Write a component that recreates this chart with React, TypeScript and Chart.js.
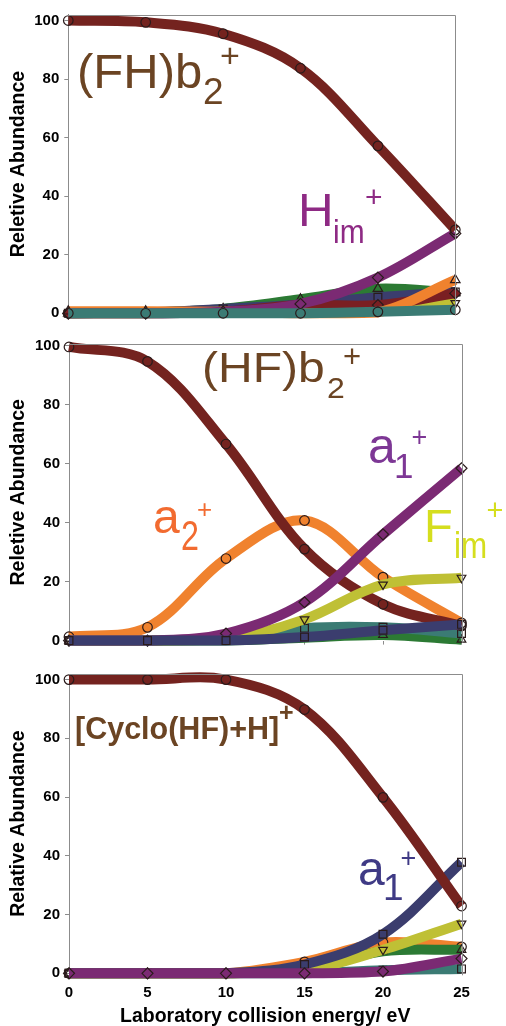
import { useEffect, useRef } from "react";
import { Chart, registerables } from "chart.js";

Chart.register(...registerables);

const FONT = '"Liberation Sans", Arial, Helvetica, sans-serif';

// ---------- data ----------
const energies = [0, 5, 10, 15, 20, 25];
const xTickValues = [0, 5, 10, 15, 20, 25];
const yTickValues = [0, 20, 40, 60, 80, 100];
const xTitle = "Laboratory collision energy/ eV";

// Panel 1: (FH)b2+
const p1Brown = [100, 99.4, 95.5, 83.7, 57.2, 28.5];
const p1Purple = [0, 0, 0.5, 3.2, 12.2, 27.3];
const p1Teal = [0, 0, 0, 0, 0.5, 1.2];
const p1Orange = [0.7, 0.7, 0.5, 0, 0.3, 11.4];
const p1DarkRed = [0, 0, 0.5, 2.8, 2.8, 6.8];
const p1Yellow = [0, 0, 0.5, 1.5, 2.5, 3.5];
const p1Navy = [0, 0.3, 1.5, 3, 5.5, 7.3];
const p1Green = [0, 0.3, 1.5, 4.8, 8.4, 7];

// Panel 2: (HF)b2+
const p2Navy = [0, 0, 0, 1.2, 3.5, 5.5];
const p2Purple = [0, 0, 2.4, 13, 36, 58.4];
const p2Yellow = [0, 0, 0.5, 7.2, 19, 21.3];
const p2Brown = [99.5, 94.6, 66.6, 31, 12.3, 5];
const p2Orange = [1.3, 4.5, 27.8, 40.7, 21.5, 6];
const p2Teal = [0, 0, 0.5, 4.2, 4.5, 2.4];
const p2Green = [0, 0, 0, 1, 1.9, 0.3];

// Panel 3: [Cyclo(HF)+H]+
const p3Brown = [100, 100, 100, 89.8, 59.9, 22.9];
const p3Navy = [0, 0, 0, 3, 13.3, 37.8];
const p3Purple = [0, 0, 0, 0, 0.6, 5];
const p3Yellow = [0, 0, 0, 1, 8, 16.9];
const p3Green = [0, 0, 0, 1.5, 7.5, 8];
const p3Orange = [0, 0, 0, 3.9, 10.5, 9];
const p3Teal = [0, 0, 0, 0, 1, 1.5];

// ---------- styles ----------
const C = {
  brown: "#74231f",
  purple: "#7b2a73",
  orange: "#f0822e",
  yellow: "#bfc035",
  green: "#2c7a34",
  teal: "#3b7b74",
  navy: "#3b3d6e",
  darkred: "#7a1f22",
};

type Series = {
  data: number[];
  color: string;
  shape: string;
  rot?: number;
  radius?: number;
  fill?: boolean;
};

function makeDataset(s: Series) {
  return {
    data: energies.map((x, i) => ({ x, y: s.data[i] })),
    borderColor: s.color,
    backgroundColor: s.color,
    borderWidth: 10,
    tension: 0.35,
    borderJoinStyle: "round",
    pointStyle: s.shape,
    pointRotation: s.rot ?? 0,
    pointRadius: s.radius ?? 5,
    pointHoverRadius: s.radius ?? 5,
    pointBorderWidth: 1.2,
    pointBorderColor: "#2a1b1b",
    pointBackgroundColor: s.fill ? s.color : "rgba(0,0,0,0)",
    clip: false,
  };
}

type Piece = {
  text: string;
  x: number;
  y: number;
  size: number;
  color: string;
  bold?: boolean;
  sx?: number;
  sy?: number;
};

const TXT_BROWN = "#6b4423";

const p1Notes: Piece[] = [
  { text: "(FH)b", x: 77, y: 88, size: 49, color: TXT_BROWN },
  { text: "2", x: 203, y: 104, size: 37, color: TXT_BROWN },
  { text: "+", x: 220, y: 67, size: 34, color: TXT_BROWN },
  { text: "H", x: 298, y: 226, size: 47, color: "#8e2a84", sx: 1.05 },
  { text: "im", x: 333, y: 243, size: 34, color: "#8e2a84", sx: 0.88 },
  { text: "+", x: 365, y: 206.5, size: 30, color: "#8e2a84" },
];

const p2Notes: Piece[] = [
  { text: "(HF)b", x: 202, y: 382, size: 48, color: TXT_BROWN, sy: 0.87 },
  { text: "2", x: 327, y: 398, size: 32, color: TXT_BROWN, sy: 0.92 },
  { text: "+", x: 343, y: 366.5, size: 31, color: TXT_BROWN },
  { text: "a", x: 153, y: 533, size: 48, color: "#f26b30" },
  { text: "2", x: 181, y: 550, size: 38, color: "#f26b30", sx: 0.85, sy: 1.1 },
  { text: "+", x: 197, y: 518, size: 26, color: "#f26b30" },
  { text: "a", x: 368, y: 463, size: 50, color: "#7d3795" },
  { text: "1", x: 394, y: 478, size: 35, color: "#7d3795" },
  { text: "+", x: 411.5, y: 446, size: 27, color: "#7d3795" },
  { text: "F", x: 424, y: 542, size: 47, color: "#d5de1e" },
  { text: "im", x: 454, y: 558, size: 37, color: "#d5de1e", sx: 0.85 },
  { text: "+", x: 486.5, y: 520, size: 29, color: "#d5de1e" },
];

const p3Notes: Piece[] = [
  { text: "[Cyclo(HF)+H]", x: 75, y: 739, size: 30.5, color: TXT_BROWN, bold: true },
  { text: "+", x: 279, y: 721, size: 25, color: TXT_BROWN, bold: true },
  { text: "a", x: 358, y: 885, size: 48, color: "#3f3a85" },
  { text: "1", x: 383, y: 900, size: 37, color: "#3f3a85" },
  { text: "+", x: 400.5, y: 867, size: 27, color: "#3f3a85" },
];

type PanelCfg = {
  top: number;
  height: number;
  padTop: number;
  padBottom: number;
  padRight: number;
  yWidth: number;
  yMax: number;
  yTitle: string;
  showX: boolean;
  xTickMarks: boolean;
  xHeight: number;
  series: Series[];
  notes: Piece[];
};

const panels: PanelCfg[] = [
  {
    top: 0,
    height: 330,
    padTop: 14.7,
    padBottom: 16.7,
    padRight: 50.7,
    yWidth: 68.3,
    yMax: 102,
    yTitle: "Reletive Abundance",
    showX: false,
    xTickMarks: false,
    xHeight: 0,
    series: [
      { data: p1Brown, color: C.brown, shape: "circle", radius: 4.8 },
      { data: p1Teal, color: C.teal, shape: "circle", radius: 4.8 },
      { data: p1Purple, color: C.purple, shape: "rectRot", radius: 5.5 },
      { data: p1Orange, color: C.orange, shape: "triangle", radius: 5.5 },
      { data: p1DarkRed, color: C.darkred, shape: "rectRot", radius: 5.5, fill: true },
      { data: p1Yellow, color: C.yellow, shape: "triangle", rot: 180, radius: 5 },
      { data: p1Navy, color: C.navy, shape: "rect", radius: 5.5 },
      { data: p1Green, color: C.green, shape: "triangle", radius: 5.5 },
    ],
    notes: p1Notes,
  },
  {
    top: 330,
    height: 330,
    padTop: 11.3,
    padBottom: 19.4,
    padRight: 44.5,
    yWidth: 69,
    yMax: 100.5,
    yTitle: "Reletive Abundance",
    showX: false,
    xTickMarks: true,
    xHeight: 0,
    series: [
      { data: p2Navy, color: C.navy, shape: "rect", radius: 5.5 },
      { data: p2Purple, color: C.purple, shape: "rectRot", radius: 5.5 },
      { data: p2Yellow, color: C.yellow, shape: "triangle", rot: 180, radius: 5 },
      { data: p2Brown, color: C.brown, shape: "circle", radius: 4.8 },
      { data: p2Orange, color: C.orange, shape: "circle", radius: 4.8 },
      { data: p2Teal, color: C.teal, shape: "rect", radius: 5.5 },
      { data: p2Green, color: C.green, shape: "triangle", radius: 5 },
    ],
    notes: p2Notes,
  },
  {
    top: 660,
    height: 366,
    padTop: 12.7,
    padBottom: 0,
    padRight: 44.5,
    yWidth: 69,
    yMax: 101.9,
    yTitle: "Relative Abundance",
    showX: true,
    xTickMarks: false,
    xHeight: 52.7,
    series: [
      { data: p3Brown, color: C.brown, shape: "circle", radius: 4.8 },
      { data: p3Purple, color: C.purple, shape: "rectRot", radius: 5.5 },
      { data: p3Navy, color: C.navy, shape: "rect", radius: 5.5 },
      { data: p3Yellow, color: C.yellow, shape: "triangle", rot: 180, radius: 5 },
      { data: p3Green, color: C.green, shape: "triangle", radius: 5 },
      { data: p3Orange, color: C.orange, shape: "circle", radius: 4.8 },
      { data: p3Teal, color: C.teal, shape: "rect", radius: 5.5 },
    ],
    notes: p3Notes,
  },
];

const framePlugin = {
  id: "frame",
  afterDatasetsDraw(chart: any) {
    const { ctx, chartArea: a } = chart;
    ctx.save();
    ctx.strokeStyle = "#8c8c8c";
    ctx.lineWidth = 1;
    ctx.beginPath();
    const r = Math.round(a.right) + 0.5;
    const t = Math.round(a.top) + 0.5;
    ctx.moveTo(Math.round(a.left), t);
    ctx.lineTo(r, t);
    ctx.lineTo(r, a.bottom + 2);
    ctx.stroke();
    ctx.restore();
  },
};

function notesPlugin(notes: Piece[], offsetTop: number) {
  return {
    id: "notes",
    afterDraw(chart: any) {
      const ctx = chart.ctx;
      notes.forEach((p) => {
        ctx.save();
        ctx.font = `${p.bold ? "bold " : ""}${p.size}px ${FONT}`;
        ctx.fillStyle = p.color;
        ctx.textBaseline = "alphabetic";
        ctx.textAlign = "left";
        ctx.translate(p.x, p.y - offsetTop);
        ctx.scale(p.sx ?? 1, p.sy ?? 1);
        ctx.fillText(p.text, 0, 0);
        ctx.restore();
      });
    },
  };
}

function buildConfig(p: PanelCfg): any {
  return {
    type: "line",
    data: { datasets: p.series.map(makeDataset) },
    options: {
      responsive: false,
      animation: false,
      devicePixelRatio: 1,
      events: [],
      layout: {
        padding: { left: 0, right: p.padRight, top: p.padTop, bottom: p.padBottom },
      },
      plugins: {
        legend: { display: false },
        tooltip: { enabled: false },
      },
      scales: {
        x: {
          type: "linear",
          min: 0,
          max: 25,
          afterBuildTicks: (ax: any) => {
            ax.ticks = xTickValues.map((v) => ({ value: v }));
          },
          afterFit: (ax: any) => {
            ax.height = p.xHeight;
          },
          ticks: {
            display: p.showX,
            color: "#000",
            padding: 6.4,
            maxRotation: 0,
            autoSkip: false,
            font: { family: FONT, size: 15, weight: "bold" },
          },
          grid: {
            display: p.xTickMarks || p.showX,
            drawOnChartArea: false,
            drawTicks: true,
            tickLength: 4,
            color: p.xTickMarks ? "#8c8c8c" : "rgba(0,0,0,0)",
          },
          border: { display: false },
          title: {
            display: p.showX,
            text: xTitle,
            color: "#000",
            padding: { top: 0, bottom: 0 },
            font: { family: FONT, size: 19.5, weight: "bold", lineHeight: 0.92 },
          },
        },
        y: {
          type: "linear",
          min: 0,
          max: p.yMax,
          afterBuildTicks: (ax: any) => {
            ax.ticks = yTickValues.map((v) => ({ value: v }));
          },
          afterFit: (ax: any) => {
            ax.width = p.yWidth;
          },
          ticks: {
            color: "#000",
            padding: 5,
            font: { family: FONT, size: 15, weight: "bold" },
          },
          grid: {
            drawOnChartArea: false,
            drawTicks: true,
            tickLength: 4,
            color: "#8c8c8c",
          },
          border: { display: true, color: "#8c8c8c", width: 1 },
          title: {
            display: true,
            text: p.yTitle,
            color: "#000",
            padding: { top: 7.3, bottom: 0 },
            font: { family: FONT, size: 19.5, weight: "bold", lineHeight: 1.2 },
          },
        },
      },
    },
    plugins: [framePlugin, notesPlugin(p.notes, p.top)],
  };
}

function Panel({ cfg }: { cfg: PanelCfg }) {
  const ref = useRef<HTMLCanvasElement | null>(null);
  useEffect(() => {
    if (!ref.current) return;
    const chart = new Chart(ref.current, buildConfig(cfg));
    return () => chart.destroy();
  }, [cfg]);
  return (
    <canvas
      ref={ref}
      width={506}
      height={cfg.height}
      style={{
        position: "absolute",
        left: 0,
        top: cfg.top,
        width: 506,
        height: cfg.height,
        display: "block",
      }}
    />
  );
}

export default function App() {
  return (
    <div
      style={{
        position: "absolute",
        left: 0,
        top: 0,
        width: 506,
        height: 1026,
        background: "#fff",
        overflow: "hidden",
      }}
    >
      {panels.map((p, i) => (
        <Panel key={i} cfg={p} />
      ))}
    </div>
  );
}
